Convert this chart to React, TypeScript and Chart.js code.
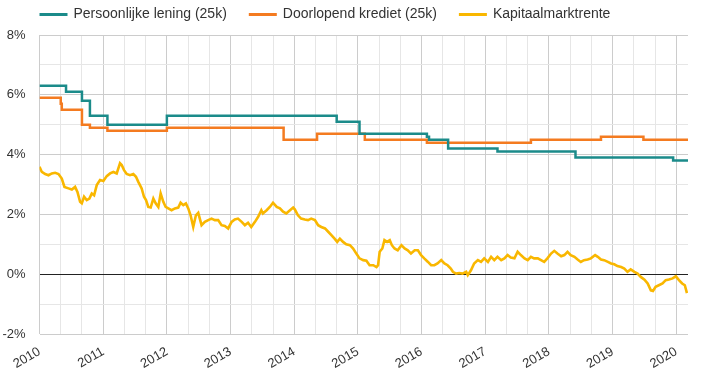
import React, { useEffect, useRef } from "react";
import { Chart, registerables } from "chart.js";

Chart.register(...registerables);

// ---- Data (x = months since January 2010) ----
const startYear = 2010;
const endMonth = 122.2;

const seriesLabels = ["Persoonlijke lening (25k)", "Doorlopend krediet (25k)", "Kapitaalmarktrente"];
const seriesColors = ["#1b8b8a", "#f47b20", "#f9b700"];

// Persoonlijke lening (25k) – step changes
const plMonths = [0, 5, 8, 9.5, 12.8, 24, 56, 60.3, 73, 73.4, 77, 86.3, 101, 119.4, 122.2];
const plRates = [6.3, 6.1, 5.8, 5.3, 5.0, 5.3, 5.1, 4.7, 4.6, 4.5, 4.2, 4.1, 3.9, 3.8, 3.8];

// Doorlopend krediet (25k) – step changes
const dkMonths = [0, 4, 4.2, 8, 9.5, 12.8, 24, 46, 52.3, 61.3, 73, 92.6, 105.8, 113.8, 122.2];
const dkRates = [5.9, 5.7, 5.5, 5.0, 4.9, 4.8, 4.9, 4.5, 4.7, 4.5, 4.4, 4.5, 4.6, 4.5, 4.5];

// Kapitaalmarktrente
const kmtMonths = [
  0, 0.44, 1.07, 1.7, 2.33, 2.95, 3.58, 4.2, 4.7, 5.46, 6.09, 6.71, 7.15, 7.65, 7.97, 8.4, 8.9, 9.4, 9.85, 10.29,
  10.79, 11.41, 12.04, 12.67, 13.3, 13.92, 14.55, 15.17, 15.49, 15.93, 16.43, 17.05, 17.68, 18.18, 18.62, 19.25,
  19.69, 20.07, 20.5, 20.95, 21.45, 21.89, 22.39, 22.83, 23.33, 23.77, 24.27, 24.89, 25.52, 26.15, 26.59, 27.09,
  27.59, 28.03, 28.47, 28.97, 29.47, 29.91, 30.54, 31.16, 31.79, 32.42, 33.04, 33.67, 34.3, 34.92, 35.55,
  36.2, 36.8, 37.4, 38.1, 38.7, 39.3, 39.9, 40.6, 41.2, 41.8, 42.1, 42.8, 43.4, 44.0, 44.7, 45.3, 45.9, 46.5,
  47.2, 47.8, 48.1, 48.7, 49.3, 50.0, 50.6, 51.2, 51.9, 52.5, 53.1, 53.8, 54.4, 55.0, 55.6, 56.1, 56.6, 57.2,
  57.8, 58.5, 59.1, 59.7, 60.3, 61.0, 61.6, 62.2, 62.9, 63.5, 63.8, 64.1, 64.6, 65.0, 65.5, 66.0, 66.4, 66.9,
  67.5, 68.2, 68.8, 69.4, 70.0, 70.7, 71.3, 71.9, 72.5, 73.2, 73.8, 74.4, 75.0, 75.7, 76.3, 76.9,
  77.5, 77.9, 78.5, 79.1, 79.7, 80.4, 80.7, 81.3, 81.9, 82.6, 83.2, 83.8, 84.5, 85.1, 85.7, 86.3, 87.0, 87.6,
  88.2, 88.8, 89.5, 90.1, 90.7, 91.4, 92.0, 92.6, 93.2, 93.9, 94.5, 95.1, 95.7, 96.4, 97.0, 97.6, 98.3, 98.9,
  99.5, 100.1, 100.8, 101.4, 102.0, 102.6, 103.3, 103.9, 104.7, 105.2, 105.8, 106.4, 107.1, 107.7, 108.3, 108.9,
  109.6, 110.2, 110.8, 111.4, 112.1, 112.7, 113.3, 114.0, 114.6, 115.2, 115.6, 116.1, 116.7, 117.4, 118.0, 118.6,
  119.3, 119.9, 120.5, 121.1, 121.6, 122.0,
];
const kmtRates = [
  3.59, 3.42, 3.35, 3.31, 3.37, 3.39, 3.35, 3.2, 2.92, 2.87, 2.83, 2.92, 2.75, 2.42, 2.37, 2.59, 2.48, 2.53, 2.7, 2.64,
  2.98, 3.15, 3.12, 3.28, 3.37, 3.42, 3.37, 3.71, 3.65, 3.48, 3.35, 3.31, 3.35, 3.26, 3.09, 2.87,
  2.59, 2.48, 2.25, 2.23, 2.53, 2.37, 2.25, 2.7, 2.42, 2.25, 2.2, 2.14, 2.2, 2.23, 2.39, 2.31,
  2.37, 2.2, 1.97, 1.58, 1.97, 2.05, 1.64, 1.75, 1.81, 1.86, 1.81, 1.81, 1.64, 1.61, 1.53,
  1.75, 1.83, 1.86, 1.75, 1.64, 1.72, 1.58, 1.75, 1.92, 2.14, 2.03, 2.14, 2.25, 2.39, 2.25, 2.2, 2.09, 2.03,
  2.14, 2.23, 2.17, 1.97, 1.86, 1.83, 1.81, 1.86, 1.81, 1.64, 1.58, 1.53, 1.42, 1.31, 1.19, 1.08, 1.19, 1.08,
  1.0, 0.97, 0.86, 0.69, 0.53, 0.47, 0.45, 0.3, 0.3, 0.24, 0.3, 0.75, 0.86, 1.14, 1.08, 1.14, 0.97, 0.86,
  0.8, 0.97, 0.86, 0.8, 0.69, 0.8, 0.8, 0.64, 0.53, 0.41, 0.3, 0.3, 0.36, 0.47, 0.36, 0.3,
  0.19, 0.08, 0.02, 0.04, 0.02, 0.08, -0.03, 0.13, 0.36, 0.47, 0.41, 0.53, 0.41, 0.58, 0.47, 0.58, 0.47, 0.53,
  0.64, 0.56, 0.53, 0.75, 0.64, 0.53, 0.47, 0.58, 0.53, 0.53, 0.47, 0.41, 0.53, 0.69, 0.78, 0.69, 0.6, 0.64,
  0.75, 0.64, 0.58, 0.49, 0.41, 0.47, 0.49, 0.53, 0.64, 0.58, 0.49, 0.47, 0.41, 0.36, 0.33, 0.27,
  0.24, 0.19, 0.08, 0.16, 0.08, 0.02, -0.09, -0.18, -0.31, -0.54, -0.56, -0.42, -0.37, -0.31, -0.2, -0.18,
  -0.14, -0.07, -0.2, -0.31, -0.37, -0.63,
];

const yMin = -2;
const yMax = 8;

const toPoints = (xs: number[], ys: number[]) => xs.map((x, i) => ({ x, y: ys[i] }));

const FONT = "Arial, 'Liberation Sans', sans-serif";

const legendPlugin = {
  id: "lineLegend",
  afterDraw(chart: any) {
    const ctx = chart.ctx;
    ctx.save();
    ctx.font = `14px ${FONT}`;
    ctx.textBaseline = "middle";
    ctx.textAlign = "left";
    let x = chart.chartArea.left;
    const y = 14.5;
    chart.data.datasets.forEach((ds: any) => {
      ctx.strokeStyle = ds.borderColor;
      ctx.lineWidth = 3;
      ctx.beginPath();
      ctx.moveTo(x, y);
      ctx.lineTo(x + 28, y);
      ctx.stroke();
      ctx.fillStyle = "#333";
      ctx.fillText(ds.label, x + 34, y);
      x += 34 + ctx.measureText(ds.label).width + 22;
    });
    ctx.restore();
  },
};

export default function App() {
  const canvasRef = useRef<HTMLCanvasElement | null>(null);

  useEffect(() => {
    if (!canvasRef.current) return;
    const chart = new Chart(canvasRef.current, {
      type: "line",
      data: {
        datasets: [
          {
            label: seriesLabels[0],
            data: toPoints(plMonths, plRates),
            borderColor: seriesColors[0],
            borderWidth: 2.5,
            stepped: "before",
            pointRadius: 0,
            fill: false,
          },
          {
            label: seriesLabels[1],
            data: toPoints(dkMonths, dkRates),
            borderColor: seriesColors[1],
            borderWidth: 2.5,
            stepped: "before",
            pointRadius: 0,
            fill: false,
          },
          {
            label: seriesLabels[2],
            data: toPoints(kmtMonths, kmtRates),
            borderColor: seriesColors[2],
            borderWidth: 2.6,
            tension: 0,
            pointRadius: 0,
            fill: false,
          },
        ],
      },
      options: {
        animation: false,
        responsive: false,
        layout: { padding: { top: 35, right: 14, bottom: 0, left: 0 } },
        plugins: {
          legend: { display: false },
          tooltip: { enabled: false },
        },
        scales: {
          x: {
            type: "linear",
            min: 0,
            max: endMonth,
            border: { display: false },
            afterFit: (s: any) => {
              s.paddingLeft = 0;
              s.paddingRight = 0;
              s.height = 44;
            },
            grid: {
              drawTicks: false,
              color: (c: any) => (c.tick && c.tick.value % 12 === 0 ? "#cccccc" : "#e6e6e6"),
            },
            ticks: {
              stepSize: 4,
              includeBounds: false,
              autoSkip: false,
              minRotation: 30,
              maxRotation: 30,
              padding: 10,
              color: "#333",
              font: { family: FONT, size: 13 },
              callback: (v: any) => (Number(v) % 12 === 0 ? String(startYear + Number(v) / 12) : ""),
            },
          },
          y: {
            type: "linear",
            min: yMin,
            max: yMax,
            border: { display: false },
            afterFit: (s: any) => {
              s.width = 39.5;
              s.paddingTop = 0;
              s.paddingBottom = 0;
            },
            grid: {
              drawTicks: false,
              color: (c: any) =>
                c.tick && c.tick.value === 0 ? "#222222" : c.tick && c.tick.value % 2 === 0 ? "#cccccc" : "#e6e6e6",
            },
            ticks: {
              stepSize: 1,
              padding: 14,
              color: "#333",
              font: { family: FONT, size: 13 },
              callback: (v: any) => (Number(v) % 2 === 0 ? `${v}%` : ""),
            },
          },
        },
      },
      plugins: [legendPlugin],
    });
    return () => chart.destroy();
  }, []);

  return (
    <div style={{ position: "absolute", left: 0, top: 0, width: 702, height: 378, background: "#fff" }}>
      <canvas ref={canvasRef} width={702} height={378} style={{ display: "block" }} />
    </div>
  );
}
